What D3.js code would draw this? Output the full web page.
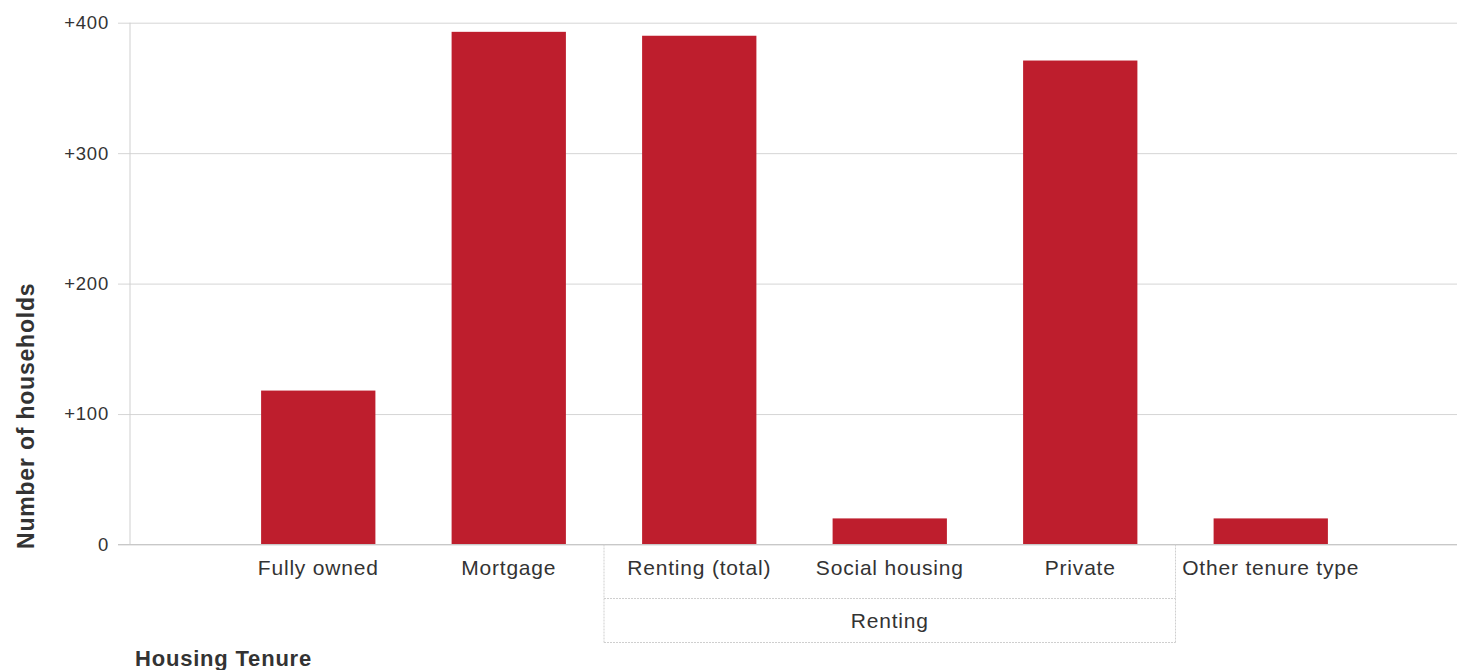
<!DOCTYPE html>
<html>
<head>
<meta charset="utf-8">
<script src="https://cdn.jsdelivr.net/npm/d3@7"></script>
<style>
  html, body { margin: 0; padding: 0; background: #fff; }
  svg { display: block; }
  text { font-family: "Liberation Sans", Arial, sans-serif; fill: #333; letter-spacing: 0.8px; }
</style>
</head>
<body>
<svg id="chart" width="1457" height="670"></svg>
<script>
// ---- data ----
const categories = ["Fully owned", "Mortgage", "Renting (total)", "Social housing", "Private", "Other tenure type"];
const values = [118, 393, 390, 20, 371, 20];
const groupLabels = ["Renting"];
const groupStart = ["Renting (total)"];
const groupEnd = ["Private"];
const yTicks = [0, 100, 200, 300, 400];
const yTitle = "Number of households";
const xTitle = "Housing Tenure";

// ---- layout ----
const W = 1457, H = 670;
const svg = d3.select("#chart");
const gridLeft = 118, axisX = 130, right = W;
const y0 = 544.5, yTop = 22.7;
const catRowBottom = 598.5, groupRowBottom = 642.5;

const x = d3.scaleBand().domain(categories).range([223, 1366]).paddingInner(0.4).paddingOuter(0.2);
const y = d3.scaleLinear().domain([0, 400]).range([y0, yTop]);

// gridlines + tick labels
const yAxis = d3.axisLeft(y)
  .tickValues(yTicks)
  .tickFormat(d => d === 0 ? "0" : "+" + d)
  .tickSize(-(right - gridLeft))
  .tickPadding(9);
const gy = svg.append("g").attr("transform", `translate(${gridLeft},0)`).call(yAxis);
gy.select(".domain").remove();
gy.selectAll(".tick line").attr("stroke", "#d6d6d6").attr("stroke-width", 1);
gy.selectAll(".tick text")
  .attr("font-size", 18.5)
  .attr("font-family", "'Liberation Sans', Arial, sans-serif")
  .attr("fill", "#333");

// vertical axis line
svg.append("line")
  .attr("x1", axisX).attr("x2", axisX)
  .attr("y1", y(400)).attr("y2", y(0))
  .attr("stroke", "#cfcfcf");

// bars
svg.append("g").selectAll("rect")
  .data(categories)
  .join("rect")
  .attr("x", d => x(d))
  .attr("width", x.bandwidth())
  .attr("y", (d, i) => y(values[i]))
  .attr("height", (d, i) => y(0) - y(values[i]))
  .attr("fill", "#BE1E2D");

// baseline
svg.append("line")
  .attr("x1", gridLeft).attr("x2", right)
  .attr("y1", y(0)).attr("y2", y(0))
  .attr("stroke", "#c8c8c8");

// category labels
svg.append("g").selectAll("text")
  .data(categories)
  .join("text")
  .attr("x", d => x(d) + x.bandwidth() / 2)
  .attr("y", 575)
  .attr("text-anchor", "middle")
  .attr("font-size", 21)
  .text(d => d);

// group boxes
const step = x.step();
const cellStart = d => x(d) - step * x.paddingInner() / 2;
groupLabels.forEach((lab, i) => {
  const gx0 = cellStart(groupStart[i]);
  const gx1 = cellStart(groupEnd[i]) + step;
  const g = svg.append("g").attr("stroke", "#cfcfcf").attr("stroke-dasharray", "2,1");
  g.append("line").attr("x1", gx0).attr("x2", gx0).attr("y1", y0).attr("y2", groupRowBottom);
  g.append("line").attr("x1", gx1).attr("x2", gx1).attr("y1", y0).attr("y2", groupRowBottom);
  g.append("line").attr("x1", gx0).attr("x2", gx1).attr("y1", catRowBottom).attr("y2", catRowBottom);
  g.append("line").attr("x1", gx0).attr("x2", gx1).attr("y1", groupRowBottom).attr("y2", groupRowBottom);
  svg.append("text")
    .attr("x", (gx0 + gx1) / 2)
    .attr("y", 628)
    .attr("text-anchor", "middle")
    .attr("font-size", 21)
    .text(lab);
});

// axis titles
svg.append("text")
  .attr("transform", `translate(34,549) rotate(-90)`)
  .attr("text-anchor", "start")
  .attr("font-size", 23)
  .attr("font-weight", "bold")
  .attr("fill", "#222")
  .text(yTitle);

svg.append("text")
  .attr("x", 135)
  .attr("y", 666)
  .attr("font-size", 22)
  .attr("font-weight", "bold")
  .attr("fill", "#222")
  .text(xTitle);
</script>
</body>
</html>
